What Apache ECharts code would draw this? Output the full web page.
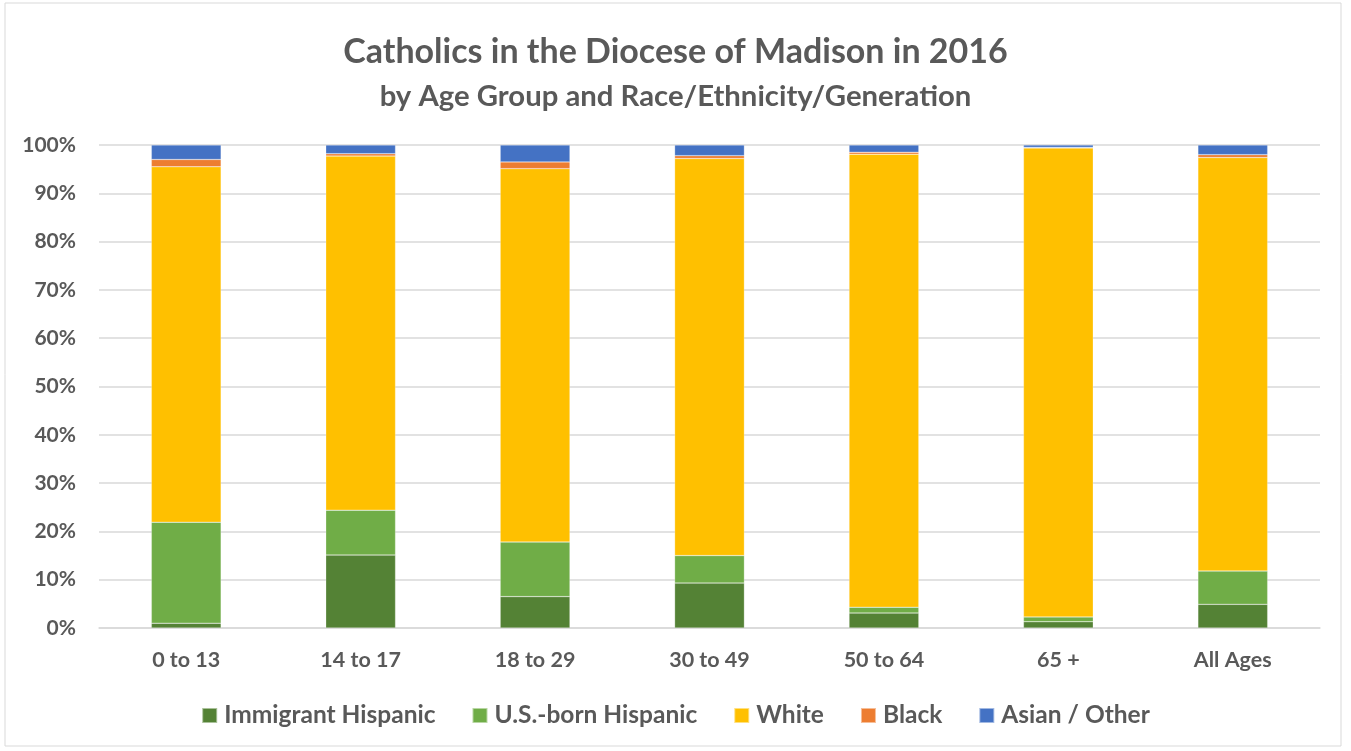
<!DOCTYPE html>
<html><head><meta charset="utf-8">
<script src="https://cdn.jsdelivr.net/npm/echarts@6/dist/echarts.min.js"></script>
<style>html,body{margin:0;padding:0;background:#fff}#c{width:1351px;height:751px}</style>
</head><body><div id="c"></div>
<script>
const categories = ['0 to 13','14 to 17','18 to 29','30 to 49','50 to 64','65 +','All Ages'];
const immigrantHispanic = [1.0, 15.1, 6.5, 9.3, 3.1, 1.3, 4.9];
const usBornHispanic    = [20.9, 9.3, 11.3, 5.7, 1.2, 1.0, 6.9];
const white             = [73.6, 73.3, 77.3, 82.2, 93.8, 97.1, 85.6];
const black             = [1.5, 0.5, 1.4, 0.6, 0.4, 0.1, 0.6];
const asianOther        = [3.0, 1.8, 3.5, 2.2, 1.5, 0.5, 2.0];
const yTicks = [0,10,20,30,40,50,60,70,80,90,100];

const FONT = 'Lato';
const TXT = '#595959';
const seriesDefs = [
  ['Immigrant Hispanic', immigrantHispanic, '#548235'],
  ['U.S.-born Hispanic', usBornHispanic, '#70AD47'],
  ['White', white, '#FFC000'],
  ['Black', black, '#ED7D31'],
  ['Asian / Other', asianOther, '#4472C4']
];
const chart = echarts.init(document.getElementById('c'));
chart.setOption({
  backgroundColor: '#fff',
  animation: false,
  textStyle: {fontFamily: FONT},
  graphic: [{type:'rect', shape:{x:5, y:3, width:1336, height:743}, style:{fill:'none', stroke:'#d9d9d9', lineWidth:1}}],
  title: [
    {text: 'Catholics in the Diocese of Madison in 2016', left: 'center', top: 30,
     textStyle: {fontFamily: FONT, fontWeight: 'bold', fontSize: 34, color: TXT}},
    {text: 'by Age Group and Race/Ethnicity/Generation', left: 'center', top: 77,
     textStyle: {fontFamily: FONT, fontWeight: 'bold', fontSize: 29.3, color: TXT}}
  ],
  legend: {
    bottom: 18, left: 'center', itemWidth: 15, itemHeight: 15, itemGap: 36,
    icon: 'rect',
    textStyle: {fontFamily: FONT, fontWeight: 'bold', fontSize: 24.5, color: TXT, padding:[0,0,0,2]},
    data: seriesDefs.map(s => s[0])
  },
  grid: {left: 99, right: 31, top: 145, bottom: 123, containLabel: false},
  xAxis: {
    type: 'category', data: categories,
    axisLine: {show: true, lineStyle: {color: '#d9d9d9', width: 1.5}},
    axisTick: {show: false},
    axisLabel: {fontFamily: FONT, fontWeight: 'bold', fontSize: 21.5, color: TXT, margin: 21}
  },
  yAxis: {
    type: 'value', min: 0, max: 100, interval: 10,
    axisLine: {show: false}, axisTick: {show: false},
    splitLine: {lineStyle: {color: '#d9d9d9', width: 1.5}},
    axisLabel: {fontFamily: FONT, fontWeight: 'bold', fontSize: 21, color: TXT, margin: 23,
      formatter: v => yTicks.includes(v) ? v + '%' : ''}
  },
  series: seriesDefs.map(s => ({
    name: s[0], type: 'bar', stack: 'total', data: s[1],
    barCategoryGap: '60%',
    itemStyle: {color: s[2], borderColor: 'rgba(255,255,255,0.5)', borderWidth: 0.5}
  }))
});
</script></body></html>
